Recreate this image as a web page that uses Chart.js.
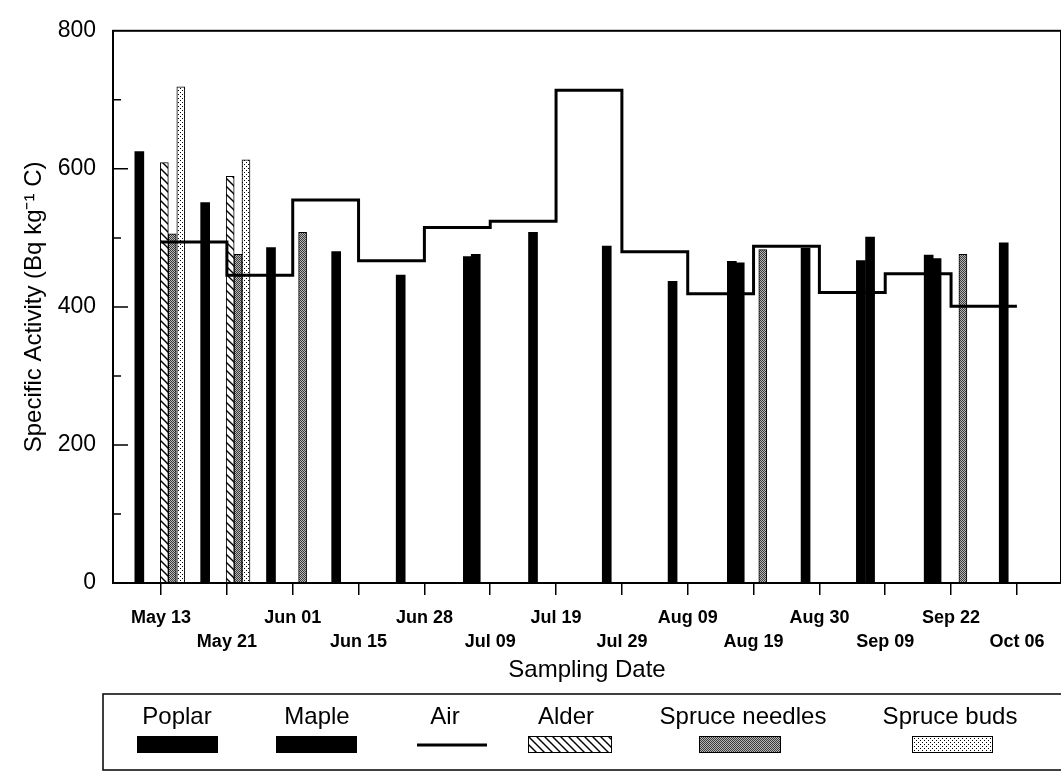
<!DOCTYPE html>
<html>
<head>
<meta charset="utf-8">
<script src="https://cdn.jsdelivr.net/npm/chart.js@4.4.0/dist/chart.umd.min.js"></script>
<style>
body { margin: 0; background: #fff; }
#wrap { width: 1061px; height: 776px; position: relative; }
</style>
</head>
<body>
<div id="wrap"><canvas id="chart"></canvas></div>
<script>
// tick labels (equally spaced sampling dates)
var tickDates = ["May 13", "May 21", "Jun 01", "Jun 15", "Jun 28", "Jul 09", "Jul 19",
                 "Jul 29", "Aug 09", "Aug 19", "Aug 30", "Sep 09", "Sep 22", "Oct 06"];

// Air: one value per interval between tick dates
var airValues = [494, 446, 555, 467, 515, 524, 714, 480, 419, 488, 421, 448, 401];

// bar positions are in tick units (0 = May 13, 1 = May 21 ...)
var poplarPos = [-0.33, 0.67, 1.67, 2.66, 3.64, 4.66, 5.65, 6.77, 7.77, 8.67, 9.79, 10.63, 11.66, 12.8];
var poplarVal = [625, 551, 486, 480, 446, 473, 508, 488, 437, 466, 485, 467, 475, 493];
var maplePos = [4.78, 8.79, 10.77, 11.78];
var mapleVal = [476, 464, 501, 470];
var alderPos = [0.05, 1.05];
var alderVal = [609, 589];
var needlesPos = [0.17, 1.17, 2.15, 9.14, 12.18];
var needlesVal = [506, 476, 508, 483, 476];
var budsPos = [0.30, 1.29];
var budsVal = [719, 613];

function pairs(xs, ys) {
    var out = [];
    for (var i = 0; i < xs.length; i++) out.push({x: xs[i], y: ys[i]});
    return out;
}
var airData = [];
for (var i = 0; i < airValues.length; i++) airData.push({x: i, y: airValues[i]});
airData.push({x: airValues.length, y: airValues[airValues.length - 1]});

function makePattern(w, h, draw) {
    var c = document.createElement('canvas');
    c.width = w; c.height = h;
    var g = c.getContext('2d');
    draw(g);
    return g.createPattern(c, 'repeat');
}
var hatch = makePattern(8, 8, function(g) {
    g.fillStyle = '#fff'; g.fillRect(0, 0, 8, 8);
    g.strokeStyle = '#000'; g.lineWidth = 1.4;
    g.beginPath();
    g.moveTo(-1, -1); g.lineTo(9, 9);
    g.moveTo(-1, 7); g.lineTo(1, 9);
    g.moveTo(7, -1); g.lineTo(9, 1);
    g.stroke();
});
var speckle = makePattern(2, 2, function(g) {
    g.fillStyle = '#b8b8b8'; g.fillRect(0, 0, 2, 2);
    g.fillStyle = '#3a3a3a'; g.fillRect(0, 0, 1, 1); g.fillRect(1, 1, 1, 1);
});
var dots = makePattern(4, 4, function(g) {
    g.fillStyle = '#fff'; g.fillRect(0, 0, 4, 4);
    g.fillStyle = '#000'; g.fillRect(0, 0, 1, 1); g.fillRect(2, 2, 1, 1);
});

Chart.defaults.font.family = "'Liberation Sans', Arial, sans-serif";
Chart.defaults.color = '#000';

var framePlugin = {
    id: 'frame',
    afterDatasetsDraw: function(chart) {
        var a = chart.chartArea, ctx = chart.ctx, ys = chart.scales.y;
        ctx.save();
        ctx.strokeStyle = '#000';
        ctx.lineWidth = 2;
        ctx.strokeRect(a.left, a.top, a.right - a.left, a.bottom - a.top);
        ctx.lineWidth = 1.5;
        ctx.beginPath();
        for (var v = 100; v < 800; v += 100) {
            var len = v % 200 == 0 ? 15 : 8;
            var y = ys.getPixelForValue(v);
            ctx.moveTo(a.left, y);
            ctx.lineTo(a.left + len, y);
        }
        ctx.stroke();
        ctx.restore();
    }
};

var legendPlugin = {
    id: 'boxLegend',
    afterDraw: function(chart) {
        var ctx = chart.ctx;
        var ds = chart.data.datasets;
        // [dataset index, text centre, swatch left, swatch right]
        var items = [[0, 177, 137, 218], [1, 317, 276, 357], [5, 445, 417, 487],
                     [2, 566, 528, 612], [3, 743, 699, 781], [4, 950, 912, 993]];
        ctx.save();
        ctx.strokeStyle = '#000';
        ctx.lineWidth = 1.5;
        ctx.strokeRect(103, 694, 1000, 76);
        ctx.font = "24px 'Liberation Sans', Arial, sans-serif";
        ctx.fillStyle = '#000';
        ctx.textAlign = 'center';
        ctx.textBaseline = 'middle';
        items.forEach(function(it) {
            var d = ds[it[0]];
            ctx.fillStyle = '#000';
            ctx.fillText(d.label, it[1], 717);
            if (d.type == 'line') {
                ctx.beginPath();
                ctx.lineWidth = 3;
                ctx.moveTo(it[2], 745);
                ctx.lineTo(it[3], 745);
                ctx.stroke();
            } else {
                ctx.fillStyle = d.backgroundColor;
                ctx.fillRect(it[2], 736, it[3] - it[2], 17);
                ctx.lineWidth = 1;
                ctx.strokeRect(it[2] + 0.5, 736.5, it[3] - it[2] - 1, 16);
            }
        });
        ctx.restore();
    }
};

var barCommon = {grouped: false, order: 1, borderColor: '#000', borderSkipped: false};

new Chart(document.getElementById('chart'), {
    type: 'bar',
    data: {
        datasets: [
            Object.assign({label: 'Poplar', data: pairs(poplarPos, poplarVal), backgroundColor: '#000', borderWidth: 0, barThickness: 9}, barCommon),
            Object.assign({label: 'Maple', data: pairs(maplePos, mapleVal), backgroundColor: '#000', borderWidth: 0, barThickness: 9}, barCommon),
            Object.assign({label: 'Alder', data: pairs(alderPos, alderVal), backgroundColor: hatch, borderWidth: 1, barThickness: 8}, barCommon),
            Object.assign({label: 'Spruce needles', data: pairs(needlesPos, needlesVal), backgroundColor: speckle, borderWidth: 1, barThickness: 8}, barCommon),
            Object.assign({label: 'Spruce buds', data: pairs(budsPos, budsVal), backgroundColor: dots, borderWidth: 1, barThickness: 8}, barCommon),
            {type: 'line', label: 'Air', data: airData, stepped: true, borderColor: '#000', borderWidth: 3,
             pointRadius: 0, fill: false, order: 0, borderJoinStyle: 'miter', borderCapStyle: 'butt'}
        ]
    },
    options: {
        responsive: true,
        maintainAspectRatio: false,
        animation: false,
        layout: {padding: {top: 24, right: 0, bottom: 86, left: 0}},
        plugins: {legend: {display: false}, tooltip: {enabled: false}},
        scales: {
            x: {
                type: 'linear', min: -0.73, max: 13.67, offset: false,
                afterBuildTicks: function(axis) {
                    axis.ticks = tickDates.map(function(d, i) { return {value: i}; });
                },
                afterFit: function(axis) { axis.height = 107; },
                grid: {drawOnChartArea: false, drawTicks: true, tickLength: 12, color: '#000', lineWidth: 1.5, offset: false},
                border: {display: false},
                ticks: {
                    autoSkip: false, maxRotation: 0, minRotation: 0, padding: 12,
                    font: {size: 18, weight: 'bold', lineHeight: 1.28},
                    callback: function(value) {
                        var i = Math.round(value);
                        return i % 2 == 0 ? [tickDates[i], ''] : ['', tickDates[i]];
                    }
                },
                title: {display: true, text: 'Sampling Date', font: {size: 24}, padding: {top: 0, bottom: 5}}
            },
            y: {
                min: 0, max: 800,
                afterFit: function(axis) { axis.width = 113; },
                grid: {display: false, drawTicks: false},
                border: {display: false},
                ticks: {
                    stepSize: 100, padding: 17, font: {size: 23},
                    callback: function(v) { return v % 200 == 0 ? v : ''; }
                },
                title: {display: true, text: 'Specific Activity (Bq kg\u207B\u00B9 C)', font: {size: 24}, padding: {top: 20, bottom: 0}}
            }
        }
    },
    plugins: [framePlugin, legendPlugin]
});
</script>
</body>
</html>
